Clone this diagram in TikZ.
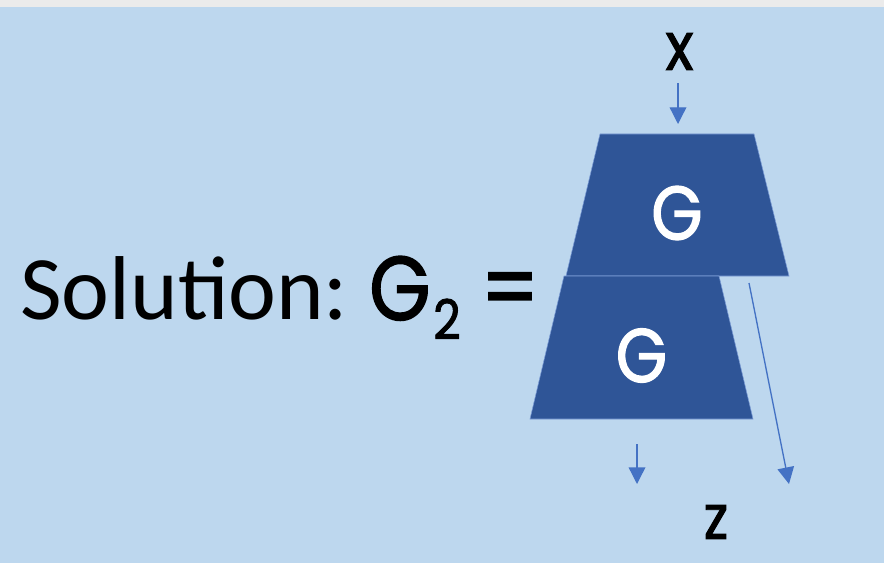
\documentclass[tikz,border=0pt]{standalone}
\usepackage{fontspec}
\setmainfont{Carlito}
\newfontfamily\handfont{Poppins}[FakeStretch=0.87, FakeBold=1.6]
\usetikzlibrary{arrows.meta,positioning}
\definecolor{bgblue}{HTML}{BDD7EE}
\definecolor{stripgray}{HTML}{EBEBEB}
\definecolor{boxblue}{HTML}{2F5597}
\definecolor{arrowblue}{HTML}{4472C4}

\begin{document}
\begin{tikzpicture}[
  x=0.75pt, y=-0.75pt,
  gblock/.style={fill=boxblue, draw=arrowblue!70, line width=0.4pt},
  glabel/.style={text=white, inner sep=0pt, font=\handfont\fontsize{57}{60}\selectfont},
  io/.style={inner sep=0pt, font=\handfont\fontsize{50}{54}\selectfont},
  arr/.style={-{Triangle[length=12.5pt, width=12.5pt]}, line width=1pt, color=arrowblue},
]
  % background
  \fill[bgblue] (0,0) rectangle (884,563);
  \fill[stripgray] (0,0) rectangle (884,7);
  \useasboundingbox (0,0) rectangle (884,563);

  % the two stacked G blocks
  \filldraw[gblock] (600,134) -- (754,134) -- (789,276) -- (566,276) -- cycle;
  \filldraw[gblock] (564,276) -- (719,276) -- (753,419) -- (530,419) -- cycle;
  \node[glabel] (g1) at (677,213) {G};
  \node[glabel] (g2) at (641.5,355.5) {G};

  % input and output
  \node[io] (x) at (679.5,51.5) {x};
  \node[io, font=\handfont\fontsize{46}{50}\selectfont] (z) at (716,522) {z};

  \coordinate (g1top) at (678,134);
  \coordinate (out1a) at (637,444);
  \coordinate (out1b) at (637,484);
  \coordinate (out2a) at (749,283);
  \coordinate (out2b) at (789,484);

  \draw[arr, shorten <=10pt, shorten >=7.5pt] (x.south -| g1top) -- (g1top);
  \draw[arr] (out1a) -- (out1b);
  \draw[arr] (out2a) -- (out2b);

  % caption
  \node[anchor=base west, inner sep=0pt, font=\fontsize{68}{72}\selectfont] (sol) at (20,319) {Solution:};
  \node[anchor=base west, inner sep=0pt, font=\handfont\fontsize{68}{72}\selectfont] (gsym) at (369,320) {G};
  \node[anchor=base west, inner sep=0pt, font=\handfont\fontsize{41}{44}\selectfont] (gsub) at (433,339) {2};
  \node[anchor=center, inner sep=0pt, font=\handfont\fontsize{70}{74}\selectfont] (eq) at (510,296.5) {=};
\end{tikzpicture}
\end{document}
